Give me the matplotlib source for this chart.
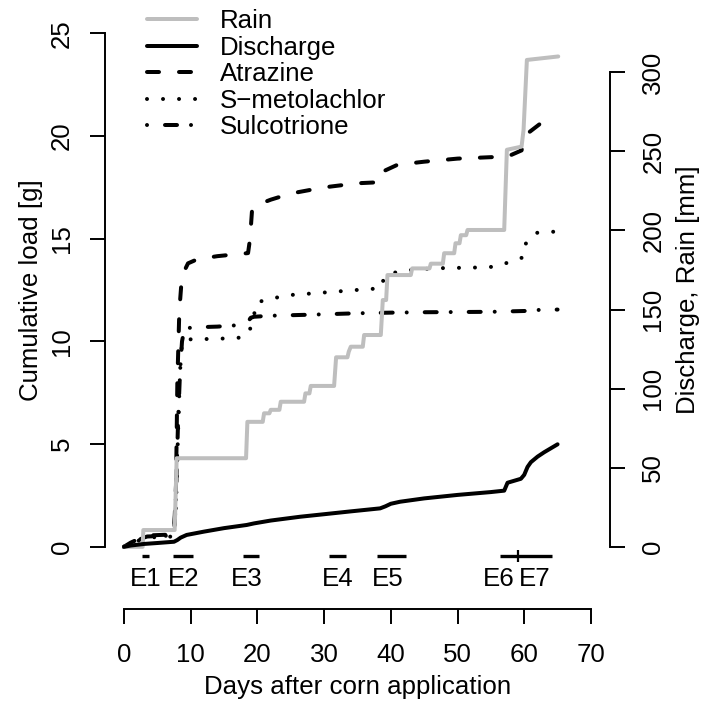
import matplotlib
matplotlib.use("Agg")
import matplotlib.pyplot as plt

plt.rcParams['font.family'] = ['Liberation Sans', 'DejaVu Sans']
plt.rcParams['lines.scale_dashes'] = False

# ---------------- data ----------------
rain_day = [0, 2.8, 2.9, 7.6, 7.9, 18.3, 18.5, 20.8, 21.0, 21.8, 22.0, 23.3, 23.5,
            27.0, 27.2, 27.8, 28.0, 31.5, 31.8, 33.5, 33.7, 34.0, 35.8, 36.0, 38.5,
            38.8, 39.3, 39.5, 43.0, 43.2, 45.8, 46.0, 47.8, 48.0, 49.5, 49.7, 50.3,
            50.5, 51.3, 51.5, 57.0, 57.4, 59.6, 59.9, 60.4, 65.1]
rain_mm = [0, 0, 10.6, 10.6, 56, 56, 79, 79, 84.4, 84.4, 86.6, 86.6, 91.7,
           91.7, 97, 97, 101.7, 101.7, 119.8, 119.8, 123.4, 126.5, 126.5, 133.9, 133.9,
           156, 156, 171.8, 171.8, 176, 176, 179, 179, 185.6, 185.6, 191.9, 191.9,
           197, 197, 200.3, 200.3, 251, 253, 263.5, 307.8, 310]

discharge_day = [0, 1, 2, 3, 5, 7.5, 8.0, 8.5, 9.4, 12, 15, 18.4, 19.5, 22, 26.4, 30, 34,
                 38.4, 39.2, 40, 41.4, 45, 50, 55, 57, 57.5, 59.5, 60.0, 60.5, 61.0,
                 62, 63, 64, 65]
discharge_mm = [0, 0.8, 1.3, 1.8, 2.4, 3.2, 4.3, 5.8, 7.5, 9.6, 11.8, 13.8, 14.8, 16.6,
                19.0, 20.6, 22.4, 24.3, 25.6, 27.2, 28.5, 30.6, 32.8, 34.6, 35.5, 40.5,
                43.0, 45.5, 50.5, 53.5, 57.0, 59.8, 62.3, 64.8]

atrazine_day = [0, 1, 3, 3.5, 7.5, 7.8, 8.0, 8.3, 8.6, 9.0, 9.6, 11, 14, 18.6, 18.9,
                19.2, 19.6, 22, 25, 30, 35, 38.3, 38.6, 39.0, 41, 45, 50, 55, 57.5,
                59.6, 60.0, 60.4, 62.4, 65]
atrazine_g = [0, 0.2, 0.5, 0.55, 0.6, 3, 8, 11.5, 12.8, 13.4, 13.8, 14.0, 14.15, 14.3,
              15, 16.4, 16.6, 16.9, 17.2, 17.5, 17.7, 17.75, 18.0, 18.3, 18.6, 18.75,
              18.9, 18.97, 19.0, 19.3, 19.8, 20.1, 20.6, 20.85]

smeto_day = [0, 1, 3, 3.5, 7.5, 7.8, 8.1, 8.4, 8.7, 9.3, 10, 13, 17, 18.4, 18.8, 19.3,
             19.9, 22.3, 25, 28, 31.6, 36.3, 38.5, 38.9, 39.3, 41.6, 46.4, 53.4, 55.8,
             57.9, 59.9, 60.3, 62.0, 65]
smeto_g = [0, 0.15, 0.4, 0.45, 0.5, 2, 5.5, 8.5, 10.0, 10.1, 10.1, 10.12, 10.16, 10.3,
           10.5, 11.0, 11.9, 12.1, 12.26, 12.33, 12.42, 12.54, 12.58, 13.0, 13.23,
           13.44, 13.56, 13.6, 13.64, 13.88, 14.1, 14.85, 15.3, 15.35]

sulco_day = [0, 1, 3, 3.5, 7.5, 7.8, 8.1, 8.4, 8.7, 9.0, 9.5, 11, 14, 17.6, 18.6, 19.0,
             19.5, 22, 28, 35, 40, 45, 50, 55, 60, 62, 65]
sulco_g = [0, 0.15, 0.45, 0.5, 0.55, 2.5, 6, 8.5, 10.0, 10.5, 10.65, 10.69, 10.72, 10.8,
           10.96, 11.15, 11.2, 11.25, 11.3, 11.37, 11.4, 11.42, 11.43, 11.44, 11.48,
           11.53, 11.55]

event_names = ['E1', 'E2', 'E3', 'E4', 'E5', 'E6', 'E7']
event_start = [2.65, 7.3, 17.8, 30.8, 37.9, 56.3, 59.0]
event_end = [3.8, 10.3, 20.3, 33.3, 42.3, 59.0, 64.1]
event_label_day = [3.2, 9.0, 18.4, 32.1, 39.6, 56.2, 61.6]

x_ticks = [0, 10, 20, 30, 40, 50, 60, 70]
left_ticks = [0, 5, 10, 15, 20, 25]
right_ticks = [0, 50, 100, 150, 200, 250, 300]

# ---------------- figure ----------------
W, H = 704, 702
fig = plt.figure(figsize=(W / 100, H / 100), dpi=100)
left_px, right_px, top_px, bot_px = 105.3, 609.6, 12.8, 567.3
ax = fig.add_axes([left_px / W, 1 - bot_px / H, (right_px - left_px) / W, (bot_px - top_px) / H])
ax2 = ax.twinx()

FS = 18.6
LW = 2.88  # ~4 px
axis_lw = 1.4

ax.set_xlim(-2.8, 72.8)
ax.set_ylim(-1, 26)
ax2.set_ylim(-12.96, 337.6)

# pesticides (left axis)
l_atr, = ax.plot(atrazine_day, atrazine_g, color='black', lw=LW,
                 linestyle=(0, (8.64, 14.4)), dash_capstyle='round', label='Atrazine')
l_sme, = ax.plot(smeto_day, smeto_g, color='black', lw=LW,
                 linestyle=(0, (0.01, 11.52)), dash_capstyle='round', label='S\u2212metolachlor')
l_sul, = ax.plot(sulco_day, sulco_g, color='black', lw=LW,
                 linestyle=(0, (0.01, 12.95, 8.64, 10.08)), dash_capstyle='round',
                 label='Sulcotrione')

# rain & discharge (right axis)
l_rain, = ax2.plot(rain_day, rain_mm, color='#BEBEBE', lw=LW, solid_joinstyle='round',
                   solid_capstyle='round', label='Rain')
l_dis, = ax2.plot(discharge_day, discharge_mm, color='black', lw=LW, solid_joinstyle='round',
                  solid_capstyle='round', label='Discharge')

# events
ax.hlines([-0.45] * len(event_start), event_start, event_end, color='black', lw=2.4,
          clip_on=False)
ax.vlines([event_start[6]], -0.72, -0.18, color='black', lw=1.6, clip_on=False)
for name, xd in zip(event_names, event_label_day):
    ax.text(xd, -1.55, name, ha='center', va='center', fontsize=FS, clip_on=False)

# axes styling
for s in ['top', 'right']:
    ax.spines[s].set_visible(False)
for s in ['top', 'left', 'bottom']:
    ax2.spines[s].set_visible(False)
ax.spines['left'].set_bounds(0, 25)
ax.spines['bottom'].set_bounds(0, 70)
ax.spines['bottom'].set_position(('outward', 30))
ax2.spines['right'].set_bounds(0, 300)
for sp in [ax.spines['left'], ax.spines['bottom'], ax2.spines['right']]:
    sp.set_linewidth(axis_lw)

ax.set_xticks(x_ticks)
ax.set_yticks(left_ticks)
ax2.set_yticks(right_ticks)
ax.tick_params(axis='both', length=10.8, width=axis_lw, labelsize=FS)
ax2.tick_params(axis='y', length=10.8, width=axis_lw, labelsize=FS)
ax.tick_params(axis='x', pad=13.5)
ax.tick_params(axis='y', pad=12)
ax2.tick_params(axis='y', pad=12)
for lbl in ax.get_yticklabels():
    lbl.set_rotation(90)
    lbl.set_va('center')
for lbl in ax2.get_yticklabels():
    lbl.set_rotation(90)
    lbl.set_va('center')

ax.set_xlabel('Days after corn application', fontsize=FS, labelpad=6)
ax.set_ylabel('Cumulative load [g]', fontsize=FS, labelpad=5)
ax2.set_ylabel('Discharge, Rain [mm]', fontsize=FS, labelpad=8)

handles = [l_rain, l_dis, l_atr, l_sme, l_sul]
leg = ax.legend(handles=handles, loc='upper left',
                bbox_to_anchor=(146.7 / W, 1 - 9 / H), bbox_transform=fig.transFigure,
                frameon=False, fontsize=FS, borderpad=0, borderaxespad=0,
                handlelength=1.95, handletextpad=0.9, labelspacing=0.1)

fig.savefig('out.png', dpi=100)
